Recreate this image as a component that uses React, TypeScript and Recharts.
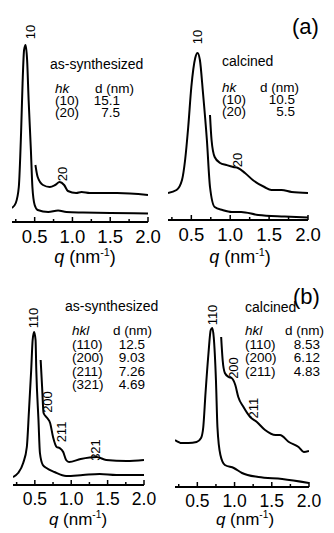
import React from "react";
import { LineChart, Line, XAxis, YAxis, ReferenceDot } from "recharts";

const FONT = '"Liberation Sans", Arial, Helvetica, sans-serif';

const TICKS = [0.25, 0.5, 0.75, 1, 1.25, 1.5, 1.75, 2];

// (a) as-synthesized
const a1Q = [0.2, 0.25, 0.29, 0.32, 0.34, 0.36, 0.38, 0.4, 0.42, 0.45, 0.47, 0.5, 0.54, 0.68, 0.81, 0.92, 1.14, 1.5, 2.0];
const a1Main = [14, 19, 35, 89, 139, 172, 177, 162, 122, 72, 35, 17, 12, 10, 11.5, 10, 9.5, 9, 8.5];
const a1ZoomQ = [0.51, 0.54, 0.61, 0.7, 0.77, 0.83, 0.89, 0.94, 1.05, 1.12, 1.23, 1.59, 2.0];
const a1Zoom = [57, 45, 37, 35, 37, 40, 37, 31, 29, 30, 29, 29, 27];

// (a) calcined
const a2Q = [0.2, 0.31, 0.38, 0.42, 0.46, 0.5, 0.55, 0.58, 0.61, 0.65, 0.7, 0.74, 0.8, 0.9, 1.02, 1.14, 1.36, 1.7, 2.0];
const a2Main = [27, 30, 40, 60, 93, 133, 162, 167, 160, 127, 80, 33, 13, 10, 8, 8, 5, 3.5, 2.5];
const a2ZoomQ = [0.74, 0.76, 0.8, 0.87, 0.95, 1.04, 1.1, 1.19, 1.29, 1.44, 1.53, 1.66, 1.79, 2.0];
const a2Zoom = [105, 80, 63, 57, 55, 53, 52, 47, 40, 33, 30, 30, 28, 27];

// (b) as-synthesized
const b1Q = [0.2, 0.27, 0.34, 0.39, 0.42, 0.45, 0.47, 0.49, 0.51, 0.52, 0.55, 0.57, 0.61, 0.66, 0.77, 0.93, 1.16, 1.39, 1.62, 2.0];
const b1Main = [8, 12, 22, 38, 75, 115, 145, 153, 145, 115, 65, 32, 20, 17, 13, 9, 10, 11, 10, 10];
const b1ZoomQ = [0.58, 0.6, 0.62, 0.67, 0.71, 0.75, 0.8, 0.84, 0.89, 0.93, 0.97, 1.13, 1.35, 1.48, 1.76, 2.0];
const b1Zoom = [125, 98, 72, 67, 62, 48, 38, 37, 33, 25, 23, 26, 28, 25, 24, 25];

// (b) calcined
const b2Q = [0.2, 0.29, 0.38, 0.49, 0.55, 0.58, 0.61, 0.65, 0.68, 0.7, 0.72, 0.75, 0.77, 0.81, 0.87, 0.99, 1.1, 1.32, 1.64, 2.0];
const b2Main = [47, 44, 44, 45, 49, 60, 94, 134, 157, 159, 150, 107, 60, 32, 22, 19, 14, 10, 8, 4];
const b2ZoomQ = [0.82, 0.84, 0.87, 0.92, 0.96, 1.01, 1.05, 1.12, 1.21, 1.3, 1.41, 1.55, 1.61, 1.73, 1.86, 1.93, 2.0];
const b2Zoom = [150, 127, 114, 110, 109, 102, 90, 80, 70, 65, 57, 52, 52, 45, 40, 35, 36];

// peak index labels (text, q, height)
const a1Peaks = [{ t: "10", q: 0.447, h: 190 }, { t: "20", q: 0.87, h: 48 }];
const a2Peaks = [{ t: "10", q: 0.577, h: 183 }, { t: "20", q: 1.09, h: 60 }];
const b1Peaks = [
  { t: "110", q: 0.475, h: 167 },
  { t: "200", q: 0.68, h: 83 },
  { t: "211", q: 0.873, h: 53 },
  { t: "321", q: 1.33, h: 35 },
];
const b2Peaks = [
  { t: "110", q: 0.71, h: 172 },
  { t: "200", q: 0.99, h: 119 },
  { t: "211", q: 1.26, h: 79 },
];

// d-spacing tables
const a1Rows = [["(10)", "15.1"], ["(20)", "7.5"]];
const a2Rows = [["(10)", "10.5"], ["(20)", "5.5"]];
const b1Rows = [["(110)", "12.5"], ["(200)", "9.03"], ["(211)", "7.26"], ["(321)", "4.69"]];
const b2Rows = [["(110)", "8.53"], ["(200)", "6.12"], ["(211)", "4.83"]];

const zip = (q: number[], v: number[]) => q.map((x, i) => ({ q: x, v: v[i] }));

function InTick(props: any) {
  const { x, y, payload, fs } = props;
  const axisY = y - 8;
  const val = payload.value as number;
  const major = Math.abs(val * 2 - Math.round(val * 2)) < 1e-6;
  return (
    <g>
      <line x1={x} x2={x} y1={axisY} y2={axisY - (major ? 5 : 3)} stroke="#000" strokeWidth={1.5} />
      {major && (
        <text x={x} y={y} dy="0.71em" textAnchor="middle" fontSize={fs} fontFamily={FONT} fill="#000">
          {val.toFixed(1)}
        </text>
      )}
    </g>
  );
}

function Panel(props: any) {
  const { left, top, width, height, margin, yMax, main, zoom, peaks, fs, xh } = props;
  return (
    <div style={{ position: "absolute", left, top }}>
      <LineChart width={width} height={height} margin={margin}>
        <XAxis
          type="number"
          dataKey="q"
          domain={[0.2, 2]}
          ticks={TICKS}
          interval={0}
          allowDataOverflow
          height={xh}
          axisLine={{ stroke: "#000", strokeWidth: 2 }}
          tickLine={false}
          tickSize={4}
          tickMargin={4}
          tick={(p: any) => <InTick {...p} fs={fs} />}
        />
        <YAxis
          type="number"
          domain={[0, yMax]}
          width={0}
          tick={false}
          tickLine={false}
          allowDataOverflow
          axisLine={{ stroke: "#000", strokeWidth: 2 }}
        />
        <Line data={main} dataKey="v" type="monotone" stroke="#000" strokeWidth={2} dot={false} isAnimationActive={false} />
        <Line data={zoom} dataKey="v" type="monotone" stroke="#000" strokeWidth={2} dot={false} isAnimationActive={false} />
        {peaks.map((p: any) => (
          <ReferenceDot
            key={p.t}
            x={p.q}
            y={p.h}
            r={0}
            ifOverflow="visible"
            shape={(sp: any) => (
              <text
                x={sp.cx}
                y={sp.cy}
                transform={`rotate(-90 ${sp.cx} ${sp.cy})`}
                textAnchor="middle"
                dominantBaseline="central"
                fontSize={13}
                fontFamily={FONT}
                fill="#000"
              >
                {p.t}
              </text>
            )}
          />
        ))}
      </LineChart>
    </div>
  );
}

function Table({ x, dx, numX, y0, step, head, rows }: any) {
  return (
    <g fontFamily={FONT} fontSize={13.5} fill="#000">
      <text x={x} y={y0}>
        <tspan fontStyle="italic">{head}</tspan>
      </text>
      <text x={dx} y={y0}>d (nm)</text>
      {rows.map((r: string[], i: number) => (
        <g key={r[0]}>
          <text x={x} y={y0 + step * (i + 1)}>{r[0]}</text>
          <text x={numX} y={y0 + step * (i + 1)} textAnchor="end">{r[1]}</text>
        </g>
      ))}
    </g>
  );
}

function QTitle({ x, y, fs }: any) {
  return (
    <text x={x} y={y} textAnchor="middle" fontFamily={FONT} fontSize={fs} fill="#000">
      <tspan fontStyle="italic">q</tspan>
      <tspan> (nm</tspan>
      <tspan fontSize={fs * 0.6} dy={-fs * 0.4}>-1</tspan>
      <tspan dy={fs * 0.4}>)</tspan>
    </text>
  );
}

export default function App() {
  return (
    <div style={{ position: "absolute", left: 0, top: 0, width: 334, height: 533, background: "#fff" }}>
      <Panel
        left={0} top={0} width={167} height={260}
        margin={{ top: 15, right: 19, bottom: 8, left: 12 }}
        xh={30} yMax={207} fs={18.5}
        main={zip(a1Q, a1Main)} zoom={zip(a1ZoomQ, a1Zoom)} peaks={a1Peaks}
      />
      <Panel
        left={167} top={0} width={167} height={260}
        margin={{ top: 15, right: 26, bottom: 10, left: 1 }}
        xh={30} yMax={205} fs={18.5}
        main={zip(a2Q, a2Main)} zoom={zip(a2ZoomQ, a2Zoom)} peaks={a2Peaks}
      />
      <Panel
        left={0} top={260} width={167} height={273}
        margin={{ top: 28, right: 23, bottom: 18, left: 13 }}
        xh={30} yMax={197} fs={17.5}
        main={zip(b1Q, b1Main)} zoom={zip(b1ZoomQ, b1Zoom)} peaks={b1Peaks}
      />
      <Panel
        left={167} top={260} width={167} height={273}
        margin={{ top: 28, right: 25, bottom: 16, left: 8 }}
        xh={30} yMax={199} fs={17.5}
        main={zip(b2Q, b2Main)} zoom={zip(b2ZoomQ, b2Zoom)} peaks={b2Peaks}
      />
      <svg width={334} height={533} style={{ position: "absolute", left: 0, top: 0, pointerEvents: "none" }}>
        <text x={50} y={69} fontFamily={FONT} fontSize={14}>as-synthesized</text>
        <Table x={55} dx={95} numX={120} y0={93} step={12} head="hk" rows={a1Rows} />
        <text x={222} y={66} fontFamily={FONT} fontSize={14}>calcined</text>
        <Table x={222} dx={260} numX={295} y0={92} step={12} head="hk" rows={a2Rows} />
        <text x={292} y={34} fontFamily={FONT} fontSize={22}>(a)</text>

        <text x={65} y={311} fontFamily={FONT} fontSize={14}>as-synthesized</text>
        <Table x={72} dx={113} numX={145} y0={335} step={13.5} head="hkl" rows={b1Rows} />
        <text x={245} y={312} fontFamily={FONT} fontSize={14}>calcined</text>
        <Table x={245} dx={285} numX={320} y0={335} step={13.5} head="hkl" rows={b2Rows} />
        <text x={293} y={304} fontFamily={FONT} fontSize={22}>(b)</text>

        <QTitle x={85} y={263} fs={18} />
        <QTitle x={240} y={263} fs={18} />
        <QTitle x={78} y={525} fs={17} />
        <QTitle x={245} y={525} fs={17} />
      </svg>
    </div>
  );
}
